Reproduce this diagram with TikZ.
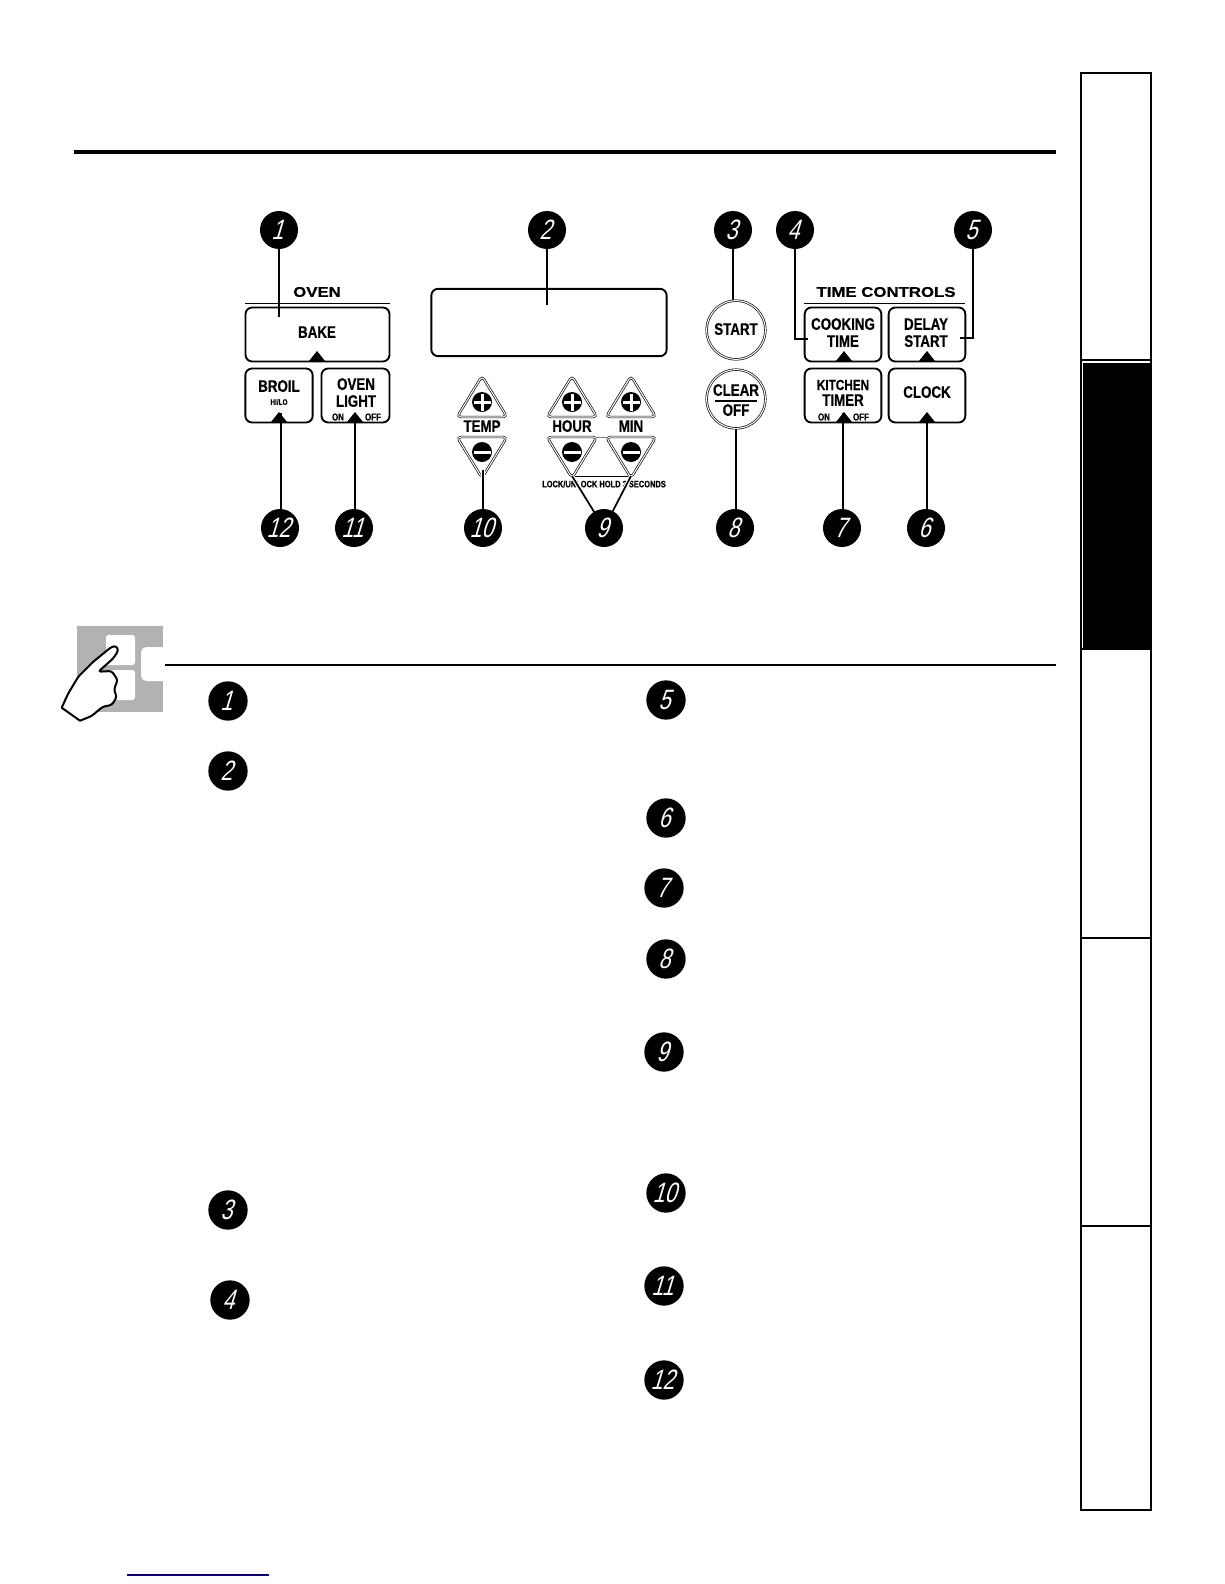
\documentclass[tikz,border=0pt]{standalone}
\usepackage{fontspec}
\setmainfont{Liberation Sans}
\newfontfamily\narrowfont[FakeStretch=0.8,FakeBold=0.5]{Liberation Sans Bold}
\newfontfamily\widefont[FakeStretch=1.2,FakeBold=0.8]{Liberation Sans Bold}
\newfontfamily\digitfont[FakeStretch=0.76,FakeSlant=0.3]{Liberation Sans}
\tikzset{
  numdot/.style={circle,fill=black,inner sep=0pt,minimum size=28.5pt},
  numtext/.style={xshift=-1.2pt,inner sep=0pt,text=white,font=\digitfont\fontsize{21}{21}\selectfont},
  panelkey/.style={draw,rounded corners=5pt,line width=1.4pt,inner sep=0pt},
  roundkey/.style={circle,draw,double,double distance=0.8pt,line width=0.5pt,inner sep=0pt,minimum size=44pt},
  keytext/.style={inner sep=0pt,yshift=0.7pt,font=\narrowfont\fontsize{12.5}{13}\selectfont},
  smalltext/.style={inner sep=0pt,font=\narrowfont\fontsize{7.5}{8}\selectfont},
  headtext/.style={inner sep=0pt,font=\widefont\fontsize{10.5}{11}\selectfont},
  leader/.style={line width=1.3pt},
  tabedge/.style={line width=0.8pt}
}
\begin{document}
\begin{tikzpicture}[x=0.75pt,y=-0.75pt]
    \useasboundingbox (0,0) rectangle (1224,1584);

    % Side tabs
    \fill (1083,363) rectangle (1151,649);
    \draw[tabedge] (1081,73) rectangle (1151,1510);
    \draw[line width=1.6pt] (1081,73) -- (1081,358);
    \draw[line width=1.6pt] (1151,649) -- (1151,938);
    \draw[line width=1.6pt] (1081,938) -- (1081,1510) -- (1151,1510);
    \foreach \ty in {360,649,938,1226}
        \draw[tabedge] (1081,\ty) -- (1151,\ty);

    % Rules
    \draw[line width=2.8pt] (74,152) -- (1056,152);
    \draw[line width=1.2pt] (165,665) -- (1056,665);
    \draw[line width=1pt,color={rgb,255:red,0;green,0;blue,128}] (127,1575) -- (269,1575);

    % Hand icon
    \fill[gray!60] (77,626) rectangle (163,712);
    \fill[white,rounded corners=2pt] (106,635) rectangle (135,665);
    \fill[white,rounded corners=2pt] (106,670) rectangle (135,700);
    \fill[white,rounded corners=4pt] (163,647) -- (141,647) -- (141,681) -- (163,681);
    \draw[fill=white,line width=1.5pt,line join=round]
        (61.7,707.7) [rounded corners=2pt] -- (68.3,693.3) -- (78.3,676.7) -- (93.3,661.7) -- (111.7,646.7) -- (116.7,646)
        -- (118.3,650.7) -- (113.3,658.3) -- (98.3,671.7) -- (111.7,671) -- (117.7,680) -- (114,689.3)
        -- (116.7,697.3) -- (111.7,705) -- (102.7,706.7) -- (91.7,716) [sharp corners] -- (80,720.7) -- cycle;

    % Numbered dots
    \foreach \n/\px/\py in {1/279/230,2/547/230,3/733/230,4/795/230,5/973/230,6/926/528,
                            7/842/528,8/735/528,10/483/528,11/354/528,12/280/528} {
        \node[numdot] (top\n) at (\px,\py) {};
        \node[numtext] (toptext\n) at (top\n) {\n};
    }
    \foreach \n/\px/\py in {1/228/701,2/228/771,3/228/1210,4/230/1300,5/666/700,6/666/818,
                            7/664/888,8/666/959,9/664/1052,10/666/1193,11/664/1286,12/664/1380} {
        \node[numdot,minimum size=29.5pt] (list\n) at (\px,\py) {};
        \node[numtext] (listtext\n) at (list\n) {\n};
    }

    % Oven keys
    \node[headtext] (ovenhead) at (317,292) {OVEN};
    \draw[line width=0.7pt] (245,303) -- (390,303);
    \node[panelkey,minimum width=108pt,minimum height=40.5pt] (bake) at (317.5,334.5) {};
    \node[panelkey,minimum width=50.5pt,minimum height=40.5pt] (broil) at (279,395.5) {};
    \node[panelkey,minimum width=51pt,minimum height=40.5pt] (ovenlight) at (355.5,395.5) {};
    \node[keytext] (baketext) at (317,333) {BAKE};
    \node[keytext] (broiltext) at (279,387) {BROIL};
    \node[inner sep=0pt,font=\narrowfont\fontsize{6}{6}\selectfont] (hilo) at (279,402) {HI/LO};
    \node[keytext] (oven) at (356,385) {OVEN};
    \node[keytext] (light) at (356,402) {LIGHT};
    \node[smalltext] (onA) at (338,417) {ON};
    \node[smalltext] (offA) at (373,417) {OFF};

    % Display
    \node[panelkey,minimum width=176.5pt,minimum height=50.5pt] (display) at (549,322.5) {};

    % Arrow keys
    \foreach \kx/\kn in {482/temp,572/hour,631/min} {
        \draw[double,double distance=0.8pt,line width=0.5pt,rounded corners=3pt,fill=white]
            (\kx,376) -- (\kx+25,417) -- (\kx-25,417) -- cycle;
        \fill (\kx,402) circle (10);
        \fill[white] (\kx-8.5,400.5) rectangle (\kx+8.5,403.5);
        \fill[white] (\kx-1.5,393.5) rectangle (\kx+1.5,410.5);
        \draw[double,double distance=0.8pt,line width=0.5pt,rounded corners=3pt,fill=white]
            (\kx,478) -- (\kx+25,437) -- (\kx-25,437) -- cycle;
        \fill (\kx,452) circle (10);
        \fill[white] (\kx-8.5,450.5) rectangle (\kx+8.5,453.5);
        \coordinate (tip\kn) at (\kx,476);
    }
    \draw[line width=0.3pt,gray] (597,437) -- (606,437);
    \draw[line width=0.4pt] (tiphour) -- (tipmin);
    \node[keytext] (temptext) at (482,427) {TEMP};
    \node[keytext] (hourtext) at (572,427) {HOUR};
    \node[keytext] (mintext) at (631,427) {MIN};
    \node[inner sep=0pt,font=\narrowfont\fontsize{7}{7}\selectfont] (locktext) at (604,484) {LOCK/UNLOCK HOLD 3 SECONDS};

    % Round keys
    \node[roundkey] (start) at (736,330) {};
    \node[keytext] (startkey) at (736,330) {START};
    \node[roundkey] (clear) at (736,399) {};
    \node[keytext] (cleartext) at (736,391) {CLEAR};
    \draw[line width=0.8pt] (715,401) -- (757,401);
    \node[keytext] (offtext) at (736,411) {OFF};

    % Time keys
    \node[headtext] (timehead) at (886,292) {TIME CONTROLS};
    \draw[line width=0.7pt] (804,303) -- (965,303);
    \node[panelkey,minimum width=57.5pt,minimum height=40.5pt] (cooking) at (843,334.5) {};
    \node[panelkey,minimum width=57.5pt,minimum height=40.5pt] (delay) at (927,334.5) {};
    \node[panelkey,minimum width=57.5pt,minimum height=40.5pt] (kitchen) at (843,395.5) {};
    \node[panelkey,minimum width=57.5pt,minimum height=40.5pt] (clock) at (927,395.5) {};
    \node[keytext] (cookingtext) at (843,325) {COOKING};
    \node[keytext] (timetext) at (843,342) {TIME};
    \node[keytext] (delaytext) at (926,325) {DELAY};
    \node[keytext] (starttext) at (926,342) {START};
    \node[inner sep=0pt,font=\narrowfont\fontsize{11}{12}\selectfont] (kitchentext) at (843,385) {KITCHEN};
    \node[keytext] (timertext) at (843,401) {TIMER};
    \node[smalltext] (onB) at (824,417) {ON};
    \node[smalltext] (offB) at (861,417) {OFF};
    \node[keytext] (clocktext) at (927,393) {CLOCK};

    % Key marks
    \foreach \mx/\my in {317/361,279/422,355/422,844/361,927/361,844/422,927/422}
        \fill (\mx-8,\my) -- (\mx,\my-10) -- (\mx+8,\my) -- cycle;

    % Leaders
    \coordinate (bakeend) at (279,317);
    \coordinate (dispend) at (547,305);
    \coordinate (cookend) at (808,339);
    \coordinate (delayend) at (960,338);
    \coordinate (clockend) at (927,415);
    \coordinate (timerend) at (843,413);
    \coordinate (lightend) at (355,413);
    \coordinate (broilend) at (281,413);
    \coordinate (tempend) at (483,470);
    \draw[leader] (top1) -- (bakeend);
    \draw[leader] (top2) -- (dispend);
    \draw[leader] (top3) -- (top3 |- start.north);
    \draw[leader] (top4) |- (cookend);
    \draw[leader] (top5) |- (delayend);
    \draw[leader] (clockend) -- (clockend |- top6.north);
    \draw[leader] (timerend) -- (timerend |- top7.north);
    \draw[leader] (clear.south) -- (clear.south |- top8.north);
    \coordinate (nineat) at (604,528);
    \draw[white,line width=3pt] (nineat) -- (tiphour);
    \draw[white,line width=3pt] (nineat) -- (tipmin);
    \draw[leader] (nineat) -- (tiphour);
    \draw[leader] (nineat) -- (tipmin);
    \draw[white,line width=3pt] (tempend) -- (tempend |- top10.north);
    \draw[leader] (tempend) -- (tempend |- top10.north);
    \draw[leader] (lightend) -- (lightend |- top11.north);
    \draw[leader] (broilend) -- (broilend |- top12.north);
    \node[numdot] (top9) at (nineat) {};
    \node[numtext] (toptext9) at (top9) {9};
\end{tikzpicture}
\end{document}
